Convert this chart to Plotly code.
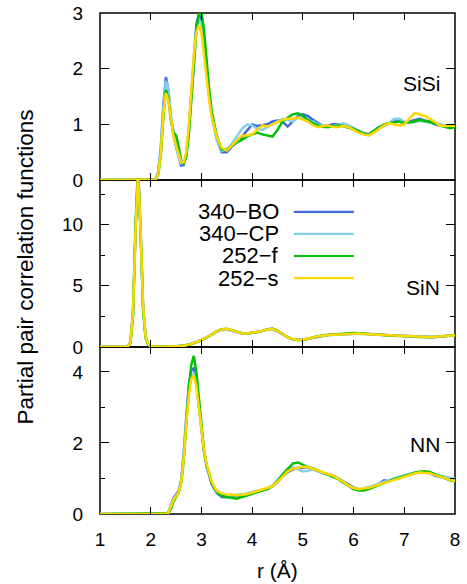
import plotly.graph_objects as go
from plotly.subplots import make_subplots

# --- datos ---
nombres = ["340−BO", "340−CP", "252−f", "252−s"]
colores = ["#4169e1", "#87ceeb", "#00c000", "#ffd700"]

# SiSi
r_sisi = [1.0, 2.0,
          2.1, 2.15, 2.2, 2.25, 2.3, 2.35, 2.4, 2.45, 2.5, 2.55, 2.6, 2.65,
          2.7, 2.75, 2.8, 2.85, 2.9, 2.95, 3.0, 3.05, 3.1, 3.15, 3.2,
          3.3, 3.4, 3.5, 3.6, 3.7, 3.8, 3.9,
          4.0, 4.1, 4.2, 4.3, 4.4, 4.5, 4.6, 4.7, 4.8, 4.9,
          5.0, 5.1, 5.2, 5.3, 5.4, 5.5, 5.6, 5.7, 5.8, 5.9,
          6.0, 6.1, 6.2, 6.3, 6.4, 6.5, 6.6, 6.7, 6.8, 6.9,
          7.0, 7.1, 7.2, 7.3, 7.4, 7.5, 7.6, 7.7, 7.8, 7.9,
          8.0]
sisi_bo = [0, 0,
           0.02, 0.15, 0.6, 1.35, 1.85, 1.6, 1.1, 0.8, 0.6, 0.4, 0.26, 0.27,
           0.45, 0.9, 1.6, 2.3, 2.8, 2.98, 2.9, 2.5, 2.0, 1.55, 1.2,
           0.75, 0.5, 0.5, 0.6, 0.68, 0.78, 0.9,
           1.0, 0.97, 0.98, 1.0, 1.05, 1.07, 1.05, 0.96, 1.05, 1.15,
           1.18, 1.15, 1.08, 1.02, 0.97, 0.98, 1.0, 1.0, 0.97, 0.95,
           0.92, 0.88, 0.84, 0.82, 0.88, 0.95, 0.98, 1.02, 1.05, 1.05,
           1.03, 1.05, 1.08, 1.1, 1.07, 1.05, 1.0, 0.98, 0.97, 0.97,
           0.98]
sisi_cp = [0, 0,
           0.02, 0.14, 0.55, 1.3, 1.78, 1.62, 1.15, 0.85, 0.62, 0.42, 0.3, 0.3,
           0.45, 0.85, 1.5, 2.2, 2.7, 2.88, 2.8, 2.45, 1.95, 1.5, 1.15,
           0.72, 0.52, 0.55, 0.65, 0.78, 0.92, 1.0,
           0.98, 0.92, 0.9, 0.95, 1.0, 1.05, 1.1, 1.08, 1.05, 1.12,
           1.1, 1.05, 1.05, 1.0, 0.98, 0.95, 0.97, 1.0, 1.02, 0.98,
           0.93, 0.88, 0.83, 0.8, 0.86, 0.92, 0.97, 1.02, 1.1, 1.1,
           1.05, 1.03, 1.05, 1.06, 1.05, 1.04, 1.02, 1.0, 0.98, 0.98,
           1.0]
sisi_f = [0, 0,
          0.01, 0.1, 0.45, 1.15, 1.62, 1.45, 1.05, 0.85, 0.8, 0.6, 0.35, 0.3,
          0.42, 0.8, 1.45, 2.15, 2.7, 2.98, 3.02, 2.7, 2.15, 1.65, 1.25,
          0.8, 0.55, 0.55, 0.62, 0.68, 0.72, 0.78,
          0.82, 0.85, 0.82, 0.8, 0.78, 0.9, 1.05, 1.12, 1.18, 1.2,
          1.15, 1.08, 1.02, 0.98, 0.95, 0.95, 0.97, 0.98, 0.97, 0.95,
          0.92, 0.88, 0.83, 0.82, 0.88, 0.95, 1.0, 1.02, 1.03, 1.05,
          1.02, 1.03, 1.05, 1.08, 1.06, 1.05, 1.02, 0.98, 0.95, 0.93,
          0.95]
sisi_s = [0, 0,
          0.01, 0.12, 0.5, 1.2, 1.56, 1.42, 1.05, 0.78, 0.62, 0.45, 0.32, 0.32,
          0.5, 0.95, 1.6, 2.25, 2.65, 2.78, 2.65, 2.3, 1.85, 1.45, 1.15,
          0.78, 0.58, 0.53, 0.62, 0.72, 0.8, 0.8,
          0.82, 0.9, 0.98, 0.96, 1.0, 1.05, 1.08, 1.1, 1.1, 1.12,
          1.08, 1.05, 0.98, 0.95, 0.97, 0.98, 0.95, 0.95, 0.97, 0.95,
          0.9, 0.85, 0.82, 0.8, 0.85, 0.92, 0.98, 1.02, 1.0, 0.98,
          1.0, 1.1, 1.2, 1.18, 1.15, 1.1, 1.05, 0.98, 0.97, 0.98,
          0.97]

# SiN
r_sin = [1.0, 1.5,
         1.55, 1.6, 1.65, 1.7, 1.75, 1.8, 1.85, 1.9, 1.95, 2.0, 2.1,
         2.2, 2.3, 2.4, 2.5, 2.6, 2.7, 2.8, 2.9,
         3.0, 3.1, 3.2, 3.3, 3.4, 3.5, 3.6, 3.7, 3.8, 3.9,
         4.0, 4.1, 4.2, 4.3, 4.4, 4.5, 4.6, 4.7, 4.8, 4.9,
         5.0, 5.1, 5.2, 5.3, 5.4, 5.5, 5.6, 5.7, 5.8, 5.9,
         6.0, 6.1, 6.2, 6.3, 6.4, 6.5, 6.6, 6.7, 6.8, 6.9,
         7.0, 7.1, 7.2, 7.3, 7.4, 7.5, 7.6, 7.7, 7.8, 7.9,
         8.0]
sin_bo = [0, 0,
          0.05, 0.4, 2.8, 9.5, 14.5, 9.5, 3.2, 0.8, 0.2, 0.06, 0.02,
          0.02, 0.02, 0.03, 0.05, 0.08, 0.15, 0.25, 0.4,
          0.55, 0.75, 1.0, 1.25, 1.42, 1.45, 1.35, 1.2, 1.1, 1.1,
          1.15, 1.2, 1.3, 1.42, 1.45, 1.3, 1.05, 0.8, 0.65, 0.58,
          0.6, 0.68, 0.78, 0.88, 0.95, 0.98, 1.0, 1.03, 1.06, 1.1,
          1.12, 1.1, 1.08, 1.05, 1.0, 0.97, 0.95, 0.93, 0.93, 0.92,
          0.9, 0.88, 0.85, 0.82, 0.8, 0.8, 0.82, 0.85, 0.88, 0.92,
          0.95]
sin_cp = [0, 0,
          0.04, 0.35, 2.6, 9.2, 14.2, 9.8, 3.4, 0.85, 0.22, 0.07, 0.03,
          0.02, 0.03, 0.04, 0.06, 0.1, 0.17, 0.28, 0.42,
          0.58, 0.78, 1.02, 1.25, 1.4, 1.42, 1.33, 1.2, 1.12, 1.1,
          1.14, 1.2, 1.3, 1.4, 1.42, 1.28, 1.03, 0.8, 0.66, 0.6,
          0.62, 0.7, 0.8, 0.88, 0.95, 0.98, 1.0, 1.02, 1.05, 1.08,
          1.1, 1.08, 1.06, 1.03, 1.0, 0.97, 0.95, 0.94, 0.93, 0.92,
          0.9, 0.88, 0.86, 0.83, 0.82, 0.82, 0.84, 0.87, 0.9, 0.93,
          0.96]
sin_f = [0, 0,
         0.03, 0.3, 2.5, 9.8, 14.8, 9.4, 3.0, 0.7, 0.18, 0.05, 0.02,
         0.01, 0.02, 0.03, 0.05, 0.08, 0.14, 0.24, 0.38,
         0.55, 0.76, 1.02, 1.28, 1.46, 1.5, 1.38, 1.22, 1.12, 1.1,
         1.15, 1.22, 1.32, 1.45, 1.5, 1.33, 1.06, 0.8, 0.64, 0.57,
         0.58, 0.66, 0.77, 0.88, 0.96, 1.0, 1.03, 1.06, 1.1, 1.14,
         1.15, 1.12, 1.08, 1.04, 1.0, 0.96, 0.94, 0.93, 0.92, 0.92,
         0.9, 0.87, 0.84, 0.81, 0.8, 0.8, 0.82, 0.86, 0.9, 0.94,
         0.98]
sin_s = [0, 0,
         0.04, 0.36, 2.7, 9.4, 14.3, 9.6, 3.3, 0.8, 0.2, 0.06, 0.02,
         0.02, 0.02, 0.03, 0.05, 0.08, 0.15, 0.26, 0.4,
         0.56, 0.76, 1.0, 1.26, 1.44, 1.48, 1.36, 1.21, 1.11, 1.1,
         1.15, 1.21, 1.31, 1.44, 1.47, 1.31, 1.05, 0.8, 0.65, 0.58,
         0.6, 0.67, 0.78, 0.88, 0.95, 0.99, 1.01, 1.04, 1.07, 1.1,
         1.12, 1.1, 1.07, 1.04, 1.0, 0.97, 0.95, 0.93, 0.93, 0.92,
         0.9, 0.88, 0.85, 0.82, 0.81, 0.81, 0.83, 0.86, 0.89, 0.93,
         0.96]

# NN
r_nn = [1.0,
        2.3, 2.35, 2.4, 2.45, 2.5, 2.55, 2.6, 2.65, 2.7, 2.75, 2.8, 2.85,
        2.9, 2.95, 3.0, 3.05, 3.1,
        3.2, 3.3, 3.4, 3.5, 3.6, 3.7, 3.8, 3.9,
        4.0, 4.1, 4.2, 4.3, 4.4, 4.5, 4.6, 4.7, 4.8, 4.9,
        5.0, 5.1, 5.2, 5.3, 5.4, 5.5, 5.6, 5.7, 5.8, 5.9,
        6.0, 6.1, 6.2, 6.3, 6.4, 6.5, 6.6, 6.7, 6.8, 6.9,
        7.0, 7.1, 7.2, 7.3, 7.4, 7.5, 7.6, 7.7, 7.8, 7.9,
        8.0]
nn_bo = [0,
         0, 0.05, 0.25, 0.45, 0.55, 0.65, 0.95, 1.7, 2.7, 3.6, 4.05, 4.1,
         3.7, 3.0, 2.3, 1.75, 1.35,
         0.85, 0.6, 0.48, 0.47, 0.5, 0.5, 0.52, 0.55,
         0.6, 0.63, 0.66, 0.7, 0.78, 0.9, 1.05, 1.18, 1.25, 1.3,
         1.3, 1.32, 1.27, 1.2, 1.15, 1.12, 1.08, 1.0, 0.92, 0.82,
         0.75, 0.7, 0.7, 0.74, 0.8, 0.85, 0.95, 0.92, 0.98, 1.02,
         1.08, 1.12, 1.15, 1.18, 1.18, 1.15, 1.08, 1.04, 1.0, 0.98,
         0.98]
nn_cp = [0,
         0, 0.04, 0.22, 0.42, 0.52, 0.62, 0.9, 1.6, 2.6, 3.45, 3.9, 3.95,
         3.65, 3.05, 2.4, 1.8, 1.4,
         0.9, 0.62, 0.52, 0.5, 0.52, 0.52, 0.55, 0.58,
         0.62, 0.65, 0.68, 0.72, 0.8, 0.95, 1.12, 1.28, 1.32, 1.25,
         1.2, 1.22, 1.25, 1.2, 1.15, 1.12, 1.08, 1.0, 0.9, 0.8,
         0.74, 0.7, 0.72, 0.75, 0.8, 0.86, 0.9, 0.95, 1.0, 1.05,
         1.1, 1.13, 1.16, 1.18, 1.17, 1.14, 1.1, 1.06, 1.04, 1.02,
         1.0]
nn_f = [0,
        0, 0.02, 0.15, 0.35, 0.48, 0.6, 0.85, 1.5, 2.5, 3.5, 4.2, 4.45,
        4.0, 3.2, 2.4, 1.8, 1.4,
        0.88, 0.62, 0.52, 0.48, 0.45, 0.43, 0.48, 0.52,
        0.58, 0.62, 0.66, 0.7, 0.78, 0.92, 1.1, 1.25, 1.42, 1.45,
        1.38, 1.32, 1.28, 1.22, 1.16, 1.12, 1.06, 0.98, 0.88, 0.78,
        0.7, 0.66, 0.66, 0.7, 0.76, 0.82, 0.88, 0.93, 0.98, 1.02,
        1.07, 1.12, 1.16, 1.19, 1.2, 1.18, 1.12, 1.06, 1.0, 0.95,
        0.92]
nn_s = [0,
        0, 0.04, 0.2, 0.4, 0.5, 0.6, 0.88, 1.55, 2.5, 3.3, 3.8, 3.9,
        3.6, 3.0, 2.35, 1.8, 1.42,
        0.92, 0.65, 0.58, 0.55, 0.55, 0.52, 0.53, 0.56,
        0.6, 0.64, 0.68, 0.72, 0.78, 0.9, 1.05, 1.2, 1.27, 1.3,
        1.33, 1.32, 1.27, 1.2, 1.15, 1.12, 1.08, 1.0, 0.9, 0.8,
        0.73, 0.7, 0.71, 0.74, 0.78, 0.83, 0.87, 0.92, 0.96, 1.0,
        1.05, 1.1, 1.14, 1.17, 1.17, 1.15, 1.1, 1.05, 1.0, 0.96,
        0.93]

paneles = [
    ("SiSi", r_sisi, [sisi_bo, sisi_cp, sisi_f, sisi_s], [0, 3], [0, 1, 2, 3], None, 1.74),
    ("SiN", r_sin, [sin_bo, sin_cp, sin_f, sin_s], [0, 13.65], [0, 5, 10], 2.5, 4.9),
    ("NN", r_nn, [nn_bo, nn_cp, nn_f, nn_s], [0, 4.7], [0, 2, 4], 1, 1.97),
]

FUENTE = "Liberation Sans, Arial, sans-serif"
NADA = "rgba(0,0,0,0)"

fig = make_subplots(rows=3, cols=1, shared_xaxes=True, vertical_spacing=0)

for i, (etiqueta, r, series, rango, ticks, menor, y_lbl) in enumerate(paneles):
    fila = i + 1
    for nombre, color, g in zip(nombres, colores, series):
        fig.add_trace(go.Scatter(x=r, y=g, mode="lines", name=nombre,
                                 line=dict(color=color, width=2.5),
                                 showlegend=False), row=fila, col=1)
    ejey = dict(range=rango, tickvals=ticks, ticks="inside", ticklen=9, tickwidth=1.3,
                tickcolor="black", showline=True, linecolor=NADA, linewidth=1,
                mirror="ticks", showgrid=False, zeroline=False, automargin=False,
                ticklabelstandoff=12, tickfont=dict(size=19, color="black", family=FUENTE))
    if menor:
        ejey["minor"] = dict(dtick=menor, tick0=0, ticks="inside", ticklen=5,
                             tickcolor="black", tickwidth=1.3, showgrid=False)
    fig.update_yaxes(row=fila, col=1, **ejey)
    fig.update_xaxes(row=fila, col=1, range=[1, 8], dtick=1, tick0=1, ticks="inside",
                     ticklen=7, tickwidth=1.3, tickcolor="black", showline=True,
                     linecolor=NADA, linewidth=1, mirror="ticks", showgrid=False,
                     zeroline=False, automargin=False, ticklabelstandoff=8,
                     tickfont=dict(size=19, color="black", family=FUENTE))
    # marco del panel (una sola linea entre paneles)
    fig.add_shape(type="rect", xref="x domain", yref="y domain", x0=0, x1=1, y0=0, y1=1,
                  line=dict(color="black", width=1.5), layer="below", row=fila, col=1)
    yref = "y" if fila == 1 else "y%d" % fila
    fig.add_annotation(text=etiqueta, x=0.963, xref="paper", xanchor="right",
                       y=y_lbl, yref=yref, yanchor="middle", showarrow=False,
                       font=dict(size=21, color="black", family=FUENTE))

# leyenda estilo gnuplot (texto a la izquierda, linea a la derecha)
ley_y = [0.603, 0.559, 0.515, 0.471]
for nombre, color, yy in zip(nombres, colores, ley_y):
    fig.add_annotation(text=nombre, x=0.507, xref="paper", xanchor="right",
                       y=yy, yref="paper", yanchor="middle", showarrow=False,
                       height=21, valign="middle", borderpad=0,
                       font=dict(size=22, color="black", family=FUENTE))
    fig.add_shape(type="line", xref="paper", yref="paper", x0=0.546, x1=0.715,
                  y0=yy, y1=yy, line=dict(color=color, width=2.2))

fig.add_annotation(text="Partial pair correlation functions", textangle=-90,
                   x=-0.211, xref="paper", xanchor="center", y=0.492, yref="paper",
                   yanchor="middle", showarrow=False,
                   font=dict(size=22.5, color="black", family=FUENTE))
fig.add_annotation(text="r (Å)", x=0.5, xref="paper", xanchor="center",
                   y=-0.112, yref="paper", yanchor="middle", showarrow=False,
                   font=dict(size=21, color="black", family=FUENTE))

fig.update_layout(width=467, height=584, margin=dict(l=100, r=12, t=13, b=70),
                  paper_bgcolor="white", plot_bgcolor="white", showlegend=False)

fig.write_html("out.html", config={"displayModeBar": False},
               post_script="document.body.style.margin='0';")
